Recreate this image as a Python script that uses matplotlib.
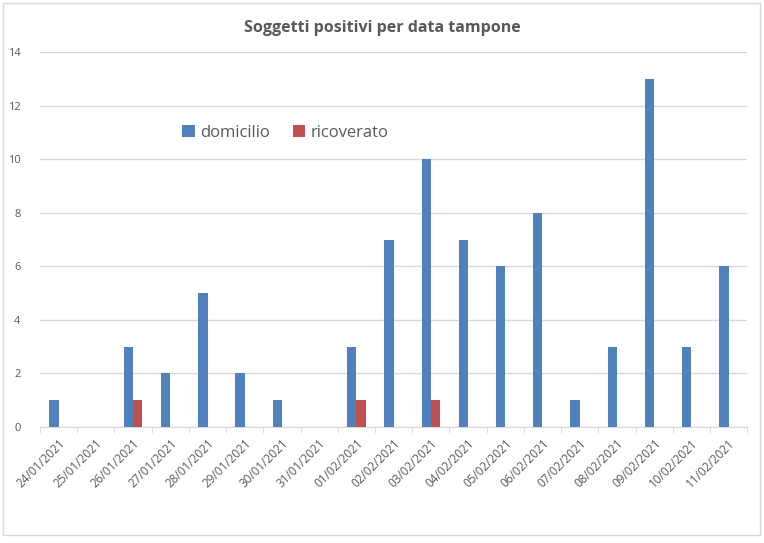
import matplotlib.pyplot as plt
import numpy as np
from matplotlib.patches import Rectangle

plt.rcParams['font.family'] = ['Open Sans', 'DejaVu Sans']

date = ['24/01/2021', '25/01/2021', '26/01/2021', '27/01/2021', '28/01/2021',
        '29/01/2021', '30/01/2021', '31/01/2021', '01/02/2021', '02/02/2021',
        '03/02/2021', '04/02/2021', '05/02/2021', '06/02/2021', '07/02/2021',
        '08/02/2021', '09/02/2021', '10/02/2021', '11/02/2021']
domicilio = [1, 0, 3, 2, 5, 2, 1, 0, 3, 7, 10, 7, 6, 8, 1, 3, 13, 3, 6]
ricoverato = [0, 0, 1, 0, 0, 0, 0, 0, 1, 0, 1, 0, 0, 0, 0, 0, 0, 0, 0]

grey = '#595959'
fig = plt.figure(figsize=(7.64, 5.43), dpi=100)
fig.patches.append(Rectangle((0.004, 0.015), 0.991, 0.979, transform=fig.transFigure,
                             fill=False, edgecolor='#d9d9d9', lw=1))

ax = fig.add_axes([0.0524, 0.2136, 0.9256, 0.6904])
x = np.arange(len(date))
w = 0.25
ax.bar(x - w / 2, domicilio, w, color='#4f81bd', label='domicilio', zorder=3)
ax.bar(x + w / 2, ricoverato, w, color='#c0504d', label='ricoverato', zorder=3)

ax.set_xlim(-0.5, len(date) - 0.5)
ax.set_ylim(0, 14)
ax.set_yticks(range(0, 15, 2))
ax.grid(axis='y', color='#d9d9d9', lw=1, zorder=0)
for s in ['top', 'right', 'left']:
    ax.spines[s].set_visible(False)
ax.spines['bottom'].set_color('#d9d9d9')

ax.set_xticks(x)
ax.set_xticklabels(date, rotation=45, ha='right', rotation_mode='anchor')
ax.set_xticks(np.arange(-0.5, len(date)), minor=True)
ax.tick_params(axis='x', which='major', length=0, labelsize=8.5, labelcolor=grey, pad=7)
ax.tick_params(axis='x', which='minor', length=4, color='#d9d9d9')
ax.tick_params(axis='y', length=0, labelsize=8, labelcolor=grey, pad=14)

fig.text(0.5, 0.948, 'Soggetti positivi per data tampone', ha='center', va='center',
         fontsize=11.5, fontweight='bold', color=grey)

leg = ax.legend(loc='center left', bbox_to_anchor=(0.18, 0.785), ncol=2, frameon=False,
                fontsize=12, handlelength=0.75, handleheight=0.75, handletextpad=0.3,
                columnspacing=1.4, labelcolor=grey)

fig.savefig('out.png', dpi=100)
